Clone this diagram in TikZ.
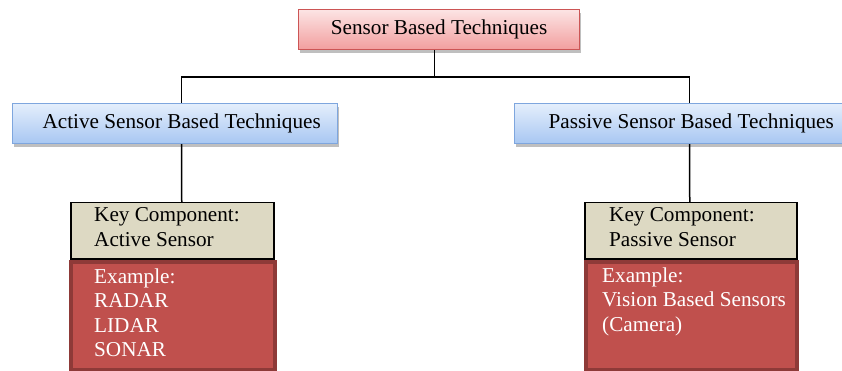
\documentclass[tikz,border=0pt]{standalone}
\usepackage{fontspec}
\setmainfont{Liberation Serif}
\usetikzlibrary{shadows}
\definecolor{pinktop}{HTML}{FCE4E4}
\definecolor{pinkbot}{HTML}{F29E9E}
\definecolor{pinkdraw}{HTML}{CC5555}
\definecolor{bluetop}{HTML}{E4EEFC}
\definecolor{bluebot}{HTML}{A8C7F2}
\definecolor{bluedraw}{HTML}{7EA6DE}
\definecolor{tanfill}{HTML}{DDD9C3}
\definecolor{redfill}{HTML}{C0504D}
\definecolor{reddraw}{HTML}{8E3A38}
\begin{document}
\begin{tikzpicture}[x=1pt,y=-1pt,
  font=\fontsize{21.2}{24.5}\selectfont,
  boxbase/.style={anchor=north west, inner sep=0pt},
  softshadow/.style={drop shadow={shadow xshift=1.5pt, shadow yshift=-3pt, opacity=0.25, fill=black}},
  pinkbox/.style={boxbase, draw=pinkdraw, line width=1.2pt, top color=pinktop, bottom color=pinkbot, softshadow},
  bluebox/.style={boxbase, draw=bluedraw, line width=1.2pt, top color=bluetop, bottom color=bluebot, softshadow},
  keybox/.style={boxbase, draw=black, line width=1.5pt, fill=tanfill},
  redbox/.style={boxbase, draw=reddraw, line width=4pt, fill=redfill},
  txt/.style={anchor=base west, inner sep=0pt},
  conn/.style={draw=black, line width=1.5pt}
]
\useasboundingbox (0,0) rectangle (842,371);

\node[pinkbox, minimum width=281pt, minimum height=40pt] (top) at (298,9) {Sensor Based Techniques};
\node[bluebox, minimum height=40pt] (act) at (12,103) {\makebox[325pt][l]{\hspace*{30pt}Active Sensor Based Techniques}};
\node[bluebox, minimum height=40pt] (pas) at (514,103) {\makebox[331pt][l]{\hspace*{34pt}Passive Sensor Based Techniques}};

\node[keybox, minimum width=203pt, minimum height=56pt] (akey) at (70,202) {};
\node[redbox, minimum width=204pt, minimum height=108pt] (aex) at (69,260) {};
\node[keybox, minimum width=212pt, minimum height=56pt] (pkey) at (584,202) {};
\node[redbox, minimum width=211pt, minimum height=108pt] (pex) at (584,260) {};

\node[txt] (akeyt) at (94,222) {\begin{tabular}[t]{@{}l@{}}Key Component:\\Active Sensor\end{tabular}};
\node[txt, text=white] (aext) at (94,283) {\begin{tabular}[t]{@{}l@{}}Example:\\RADAR\\LIDAR\\SONAR\end{tabular}};
\node[txt] (pkeyt) at (609,222) {\begin{tabular}[t]{@{}l@{}}Key Component:\\Passive Sensor\end{tabular}};
\node[txt, text=white] (pext) at (602,282) {\begin{tabular}[t]{@{}l@{}}Example:\\Vision Based Sensors\\(Camera)\end{tabular}};

\coordinate (j) at ([xshift=-4.5pt]top.south |- 0,77);
\draw[conn] ([xshift=-4.5pt]top.south) -- (j);
\draw[conn] (j) -| ([xshift=6.5pt]act.north);
\draw[conn] (j) -| ([xshift=9.5pt]pas.north);
\draw[conn] ([xshift=6.5pt]act.south) -- ([xshift=9.5pt]akey.north);
\draw[conn] ([xshift=9.5pt]pas.south) -- ([xshift=-1pt]pkey.north);
\end{tikzpicture}
\end{document}
